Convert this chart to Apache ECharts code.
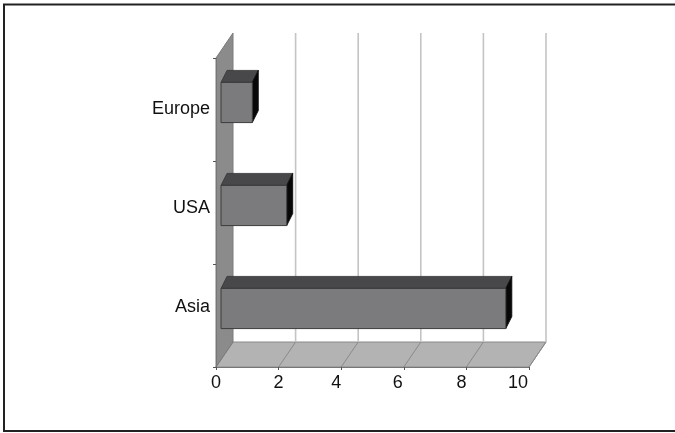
<!DOCTYPE html>
<html>
<head>
<meta charset="utf-8">
<script src="https://cdn.jsdelivr.net/npm/echarts@6/dist/echarts.min.js"></script>
<style>
  html, body { margin: 0; padding: 0; background: #ffffff; }
  #chart { width: 675px; height: 433px; }
</style>
</head>
<body>
<div id="chart"></div>
<script>
// ---- data ----
const categories = ['Asia', 'USA', 'Europe'];
const values = [9.1, 2.1, 1.0];
const xTicks = [0, 2, 4, 6, 8, 10];

// ---- style constants (pseudo 3D projection) ----
const DX = 17, DY = -25;          // wall depth offset
const OX = 5, OY = -7;            // bar front plane offset
const BX = 6, BY = -12;           // bar depth
const BAR_FRAC = 0.39;
const FONT = "'Liberation Sans', Arial, sans-serif";
const FS = 18;

const labelShiftUp = { Asia: 16, USA: 8, Europe: 0 };
const xLabelShiftLeft = { 0: 0, 2: 0, 4: 10, 6: 12, 8: 10, 10: 22 };

const chart = echarts.init(document.getElementById('chart'), null, { renderer: 'canvas' });

const yRich = {};
categories.forEach(c => {
  yRich['c' + c] = { fontSize: FS, fontFamily: FONT, color: '#111', padding: [0, 0, labelShiftUp[c], 0] };
});
const xRich = {};
xTicks.forEach(t => {
  xRich['t' + t] = { fontSize: FS, fontFamily: FONT, color: '#111', padding: [0, xLabelShiftLeft[t], 0, 0] };
});

const option = {
  backgroundColor: '#ffffff',
  animation: false,
  graphic: [{
    type: 'rect',
    shape: { x: 4, y: 4.5, width: 680, height: 426.5 },
    style: { fill: 'none', stroke: '#222', lineWidth: 2 },
    z: 100
  }],
  grid: { left: 216, top: 58, width: 313, height: 309, containLabel: false },
  xAxis: {
    type: 'value', min: 0, max: 10, interval: 2,
    axisLine: { show: true, lineStyle: { color: '#777', width: 1 } },
    axisTick: { show: true, length: 3, lineStyle: { color: '#555' } },
    splitLine: { show: false },
    axisLabel: {
      margin: 7,
      formatter: v => '{t' + v + '|' + v + '}',
      rich: xRich
    },
    z: 10
  },
  yAxis: {
    type: 'category', data: categories,
    axisLine: { show: true, lineStyle: { color: '#777', width: 1 } },
    axisTick: { show: true, length: 3, lineStyle: { color: '#555' } },
    splitLine: { show: false },
    axisLabel: {
      margin: 6,
      formatter: v => '{c' + v + '|' + v + '}',
      rich: yRich
    },
    z: 10
  },
  series: [
    {
      // walls: left side wall and floor
      type: 'custom',
      z: 1,
      silent: true,
      data: [[0, 0]],
      encode: { x: 0, y: 1 },
      renderItem: function (params, api) {
        const cs = params.coordSys;
        const x = cs.x, y0 = cs.y, y1 = cs.y + cs.height, w = cs.width;
        return {
          type: 'group',
          children: [
            {
              type: 'polygon',
              shape: { points: [[x, y1], [x + w, y1], [x + w + DX, y1 + DY], [x + DX, y1 + DY]] },
              style: { fill: '#b3b3b3', stroke: '#8a8a8a', lineWidth: 1 }
            },
            {
              type: 'polygon',
              shape: { points: [[x, y0], [x + DX, y0 + DY], [x + DX, y1 + DY], [x, y1]] },
              style: { fill: '#8b8b8b', stroke: '#7a7a7a', lineWidth: 1 }
            }
          ]
        };
      }
    },
    {
      // gridlines on back wall and floor
      type: 'custom',
      z: 2,
      silent: true,
      data: xTicks.map(t => [t, 0]),
      encode: { x: 0, y: 1 },
      renderItem: function (params, api) {
        const cs = params.coordSys;
        const y0 = cs.y, y1 = cs.y + cs.height;
        const px = api.coord([api.value(0), 0])[0];
        const children = [];
        if (api.value(0) !== 0) {
          children.push({
            type: 'line',
            shape: { x1: px + DX, y1: y0 + DY, x2: px + DX, y2: y1 + DY },
            style: { stroke: '#c4c4c4', lineWidth: 1.6 }
          });
          children.push({
            type: 'line',
            shape: { x1: px, y1: y1, x2: px + DX, y2: y1 + DY },
            style: { stroke: '#8a8a8a', lineWidth: 1 }
          });
        }
        return { type: 'group', children: children };
      }
    },
    {
      // 3D bars
      type: 'custom',
      z: 3,
      data: values.map((v, i) => [v, i]),
      encode: { x: 0, y: 1 },
      renderItem: function (params, api) {
        const idx = api.value(1);
        const p0 = api.coord([0, idx]);
        const p1 = api.coord([api.value(0), idx]);
        const bh = api.size([0, 1])[1] * BAR_FRAC;
        const fx0 = p0[0] + OX, fx1 = p1[0] + OX;
        const fy0 = p0[1] + OY - bh / 2, fy1 = p0[1] + OY + bh / 2;
        return {
          type: 'group',
          children: [
            {
              type: 'polygon',
              shape: { points: [[fx0, fy0], [fx1, fy0], [fx1 + BX, fy0 + BY], [fx0 + BX, fy0 + BY]] },
              style: { fill: '#48484a', stroke: '#333', lineWidth: 0.8 }
            },
            {
              type: 'polygon',
              shape: { points: [[fx1, fy0], [fx1 + BX, fy0 + BY], [fx1 + BX, fy1 + BY], [fx1, fy1]] },
              style: { fill: '#080808', stroke: '#080808', lineWidth: 0.8 }
            },
            {
              type: 'rect',
              shape: { x: fx0, y: fy0, width: fx1 - fx0, height: fy1 - fy0 },
              style: { fill: '#7b7b7d', stroke: '#3c3c3c', lineWidth: 1 }
            }
          ]
        };
      }
    }
  ]
};

chart.setOption(option);
</script>
</body>
</html>
